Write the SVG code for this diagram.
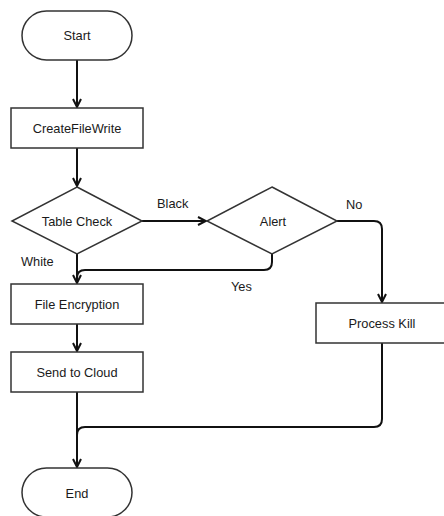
<svg xmlns="http://www.w3.org/2000/svg" width="444" height="516" viewBox="0 0 444 516">
  <style>
    .node { fill: #ffffff; stroke: #333333; stroke-width: 1.5; }
    .label { font-family: "Liberation Sans", Arial, sans-serif; font-size: 12.8px; fill: #1a1a1a; text-anchor: middle; dominant-baseline: central; }
    .edge { fill: none; stroke: #111111; stroke-width: 2; }
    .edge-label { font-family: "Liberation Sans", Arial, sans-serif; font-size: 12.8px; fill: #1a1a1a; dominant-baseline: central; }
  </style>
  <defs>
    <marker id="arrow" viewBox="0 0 10 10" refX="9" refY="5" markerWidth="10" markerHeight="10" markerUnits="userSpaceOnUse" orient="auto">
      <path d="M1,1 L9,5 L1,9" fill="none" stroke="#111111" stroke-width="2"/>
    </marker>
  </defs>
  <rect width="444" height="516" fill="#ffffff"/>

  <g id="connectors">
    <path class="edge" d="M77,60 L77,107" marker-end="url(#arrow)"/>
    <path class="edge" d="M77,148 L77,186" marker-end="url(#arrow)"/>
    <path class="edge" d="M142,221 L206,221" marker-end="url(#arrow)"/>
    <path class="edge" d="M337,221 L374,221 Q382,221 382,229 L382,302" marker-end="url(#arrow)"/>
    <path class="edge" d="M272,254 L272,262 Q272,270 264,270 L85,270 Q77,270 77,278"/>
    <path class="edge" d="M77,254 L77,283" marker-end="url(#arrow)"/>
    <path class="edge" d="M77,324 L77,351" marker-end="url(#arrow)"/>
    <path class="edge" d="M77,392 L77,467" marker-end="url(#arrow)"/>
    <path class="edge" d="M382,343 L382,419 Q382,427 374,427 L85,427 Q77,427 77,435"/>
    <text class="edge-label" x="157" y="203">Black</text>
    <text class="edge-label" x="346" y="204">No</text>
    <text class="edge-label" x="231" y="286">Yes</text>
    <text class="edge-label" x="21" y="261">White</text>
  </g>

  <g id="start">
    <rect class="node" x="22" y="11" width="110" height="49" rx="24.5" ry="24.5"/>
    <text class="label" x="77" y="35.5">Start</text>
  </g>
  <g id="create-file-write">
    <rect class="node" x="11" y="108" width="132" height="40"/>
    <text class="label" x="77" y="128">CreateFileWrite</text>
  </g>
  <g id="table-check">
    <path class="node" d="M77,187 L142,221 L77,254 L12,221 Z"/>
    <text class="label" x="77" y="221">Table Check</text>
  </g>
  <g id="alert">
    <path class="node" d="M272,187 L337,221 L272,254 L207,221 Z"/>
    <text class="label" x="273" y="221">Alert</text>
  </g>
  <g id="file-encryption">
    <rect class="node" x="11" y="284" width="132" height="40"/>
    <text class="label" x="77" y="304">File Encryption</text>
  </g>
  <g id="process-kill">
    <rect class="node" x="316" y="303" width="132" height="40"/>
    <text class="label" x="382" y="323">Process Kill</text>
  </g>
  <g id="send-to-cloud">
    <rect class="node" x="11" y="352" width="132" height="40"/>
    <text class="label" x="77" y="372">Send to Cloud</text>
  </g>
  <g id="end">
    <rect class="node" x="22" y="468" width="110" height="49" rx="24.5" ry="24.5"/>
    <text class="label" x="77" y="493">End</text>
  </g>
</svg>
